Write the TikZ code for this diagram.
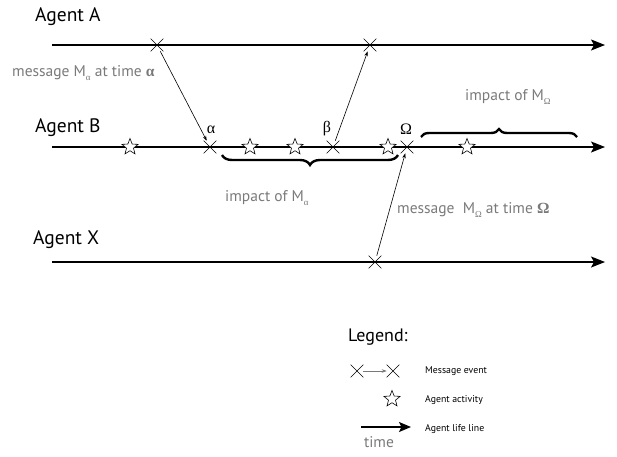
\documentclass[tikz,border=0pt]{standalone}
\usepackage{fontspec}
\setmainfont{PT Sans}
\newfontfamily\grk{Liberation Serif}
\newcommand\lowsub[1]{\raisebox{-0.5ex}{\fontsize{9}{9}\selectfont\grk #1}}
\usetikzlibrary{shapes.geometric,shapes.misc,arrows.meta,decorations.pathreplacing}
\definecolor{labelgray}{gray}{0.48}
\begin{document}
\begin{tikzpicture}[x=1pt,y=-1pt,
 xmark/.style={cross out,draw,minimum size=12pt,inner sep=0pt,line width=0.6pt},
 act/.style={star,star points=5,star point ratio=2.3,draw,fill=white,minimum size=17pt,inner sep=0pt,line width=0.6pt},
 life/.style={line width=1.2pt,-{Stealth[length=14pt,width=11pt,inset=3pt]}},
 msg/.style={line width=0.6pt,-{Stealth[length=5pt,width=3.5pt]}},
 agent/.style={font=\fontsize{19.5}{22}\selectfont,anchor=west,inner sep=0pt},
 note/.style={text=labelgray,font=\fontsize{15.5}{18}\selectfont,anchor=west,inner sep=0pt},
 greek/.style={font=\fontsize{16}{18}\selectfont\grk,inner sep=0pt},
 brc/.style={decorate,line width=2.4pt},
 legtext/.style={font=\fontsize{9.8}{11}\selectfont,anchor=west,inner sep=0pt}]
\useasboundingbox (0,0) rectangle (617,456);
% life lines
\coordinate (a0) at (52,45); \coordinate (a1) at (605,45);
\coordinate (b0) at (52,147); \coordinate (b1) at (605,147);
\coordinate (x0) at (52,262); \coordinate (x1) at (605,262);
\draw[life] (a0) -- (a1);
\draw[life] (b0) -- (b1);
\draw[life] (x0) -- (x1);
% labels
\node[agent] (la) at (35,17) {Agent A};
\node[agent] (lb) at (35,128) {Agent B};
\node[agent] (lx) at (33,240) {Agent X};
% stars
\node[act] (s1) at (130,147) {};
\node[act] (s2) at (250,147) {};
\node[act] (s3) at (295,147) {};
\node[act] (s4) at (388,147) {};
\node[act] (s5) at (467,147) {};
% crosses
\node[xmark] (ca1) at (157,45) {};
\node[xmark] (ca2) at (370,45) {};
\node[xmark] (cba) at (210,147) {};
\node[xmark] (cbb) at (333,147) {};
\node[xmark] (cbo) at (407,147) {};
\node[xmark] (cx) at (375,262) {};
% messages
\draw[msg] (ca1) -- (cba);
\draw[msg] (cbb) -- (ca2);
\draw[msg] (cx) -- (cbo);
% greek labels
\node[greek] (ga) at (211,130) {α};
\node[greek] (gb) at (327,129) {β};
\node[greek] (go) at (406,129) {Ω};
% braces
\draw[brc,decoration={brace,amplitude=10pt}] (398,155) -- (222,155);
\draw[brc,decoration={brace,amplitude=8pt}] (421,137) -- (577,137);
% notes
\node[note] (n1) at (12,73) {message M\lowsub{α} at time {\grk\bfseries α}};
\node[note] (n2) at (465,97) {impact of M\lowsub{Ω}};
\node[note] (n3) at (225,198) {impact of M\lowsub{α}};
\node[note] (n4) at (397,210) {message\ \ M\lowsub{Ω} at time {\grk\bfseries Ω}};
% legend
\node[font=\fontsize{18}{20}\selectfont,anchor=west,inner sep=0pt] (lg) at (348,337) {Legend:};
\node[xmark] (lc1) at (357,371) {};
\node[xmark] (lc2) at (393,371) {};
\draw[msg,draw=labelgray] (lc1) -- (lc2);
\node[legtext] (t1) at (425,371) {Message event};
\node[act] (ls) at (392,399) {};
\node[legtext] (t2) at (425,400) {Agent activity};
\coordinate (l0) at (361,427); \coordinate (l1) at (411,427);
\draw[line width=1.2pt,-{Stealth[length=12pt,width=10pt,inset=2.5pt]}] (l0) -- (l1);
\node[note,anchor=center] (tm) at (379,442) {time};
\node[legtext] (t3) at (425,429) {Agent life line};
\end{tikzpicture}
\end{document}
